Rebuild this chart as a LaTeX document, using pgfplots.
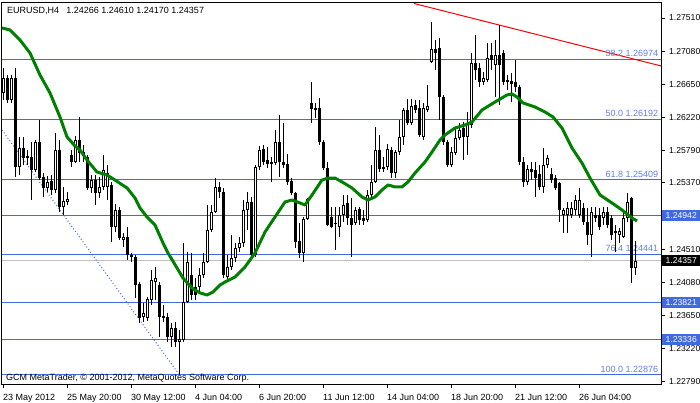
\documentclass[border=0pt]{standalone}
\usepackage{pgfplots}
\pgfplotsset{compat=1.18}
\usepackage{pgfplotstable}
\usepackage{fontspec}
\setmainfont{Liberation Sans}
\definecolor{rblue}{RGB}{65,105,225}
\definecolor{fibtxt}{RGB}{95,125,230}
\definecolor{mag}{RGB}{0,128,0}
\definecolor{silv}{RGB}{192,192,192}

\pgfplotstableread{
x o h l c
0 1.26537 1.26861 1.26446 1.26731
1 1.26731 1.26770 1.26407 1.26446
2 1.26446 1.26770 1.26407 1.26731
3 1.26731 1.26861 1.25446 1.25576
4 1.25576 1.25966 1.25472 1.25823
5 1.25823 1.25966 1.25602 1.25693
6 1.25693 1.25797 1.25602 1.25719
7 1.25706 1.25901 1.25148 1.25537
8 1.25537 1.25927 1.25511 1.25901
9 1.25901 1.26186 1.25407 1.25433
10 1.25446 1.25498 1.25187 1.25304
11 1.25304 1.25459 1.25252 1.25382
12 1.25394 1.25472 1.25213 1.25278
13 1.25278 1.26018 1.25239 1.25797
14 1.25797 1.25927 1.24992 1.25057
15 1.25057 1.25317 1.24953 1.25135
16 1.25122 1.25252 1.25083 1.25161
17 1.25732 1.25797 1.25576 1.25641
18 1.25641 1.25979 1.25628 1.25927
19 1.25927 1.26225 1.25641 1.25758
20 1.25771 1.25862 1.25641 1.25732
21 1.25706 1.25732 1.25278 1.25304
22 1.25304 1.25472 1.25239 1.25407
23 1.25407 1.25472 1.25083 1.25239
24 1.25239 1.25446 1.25174 1.25317
25 1.25317 1.25732 1.25278 1.25537
26 1.25317 1.25602 1.25148 1.25498
27 1.25343 1.25382 1.24603 1.24797
28 1.24797 1.25096 1.24732 1.25018
29 1.25018 1.25057 1.24629 1.24655
30 1.24629 1.24719 1.24538 1.24668
31 1.24668 1.24797 1.24369 1.24434
32 1.24434 1.24460 1.24343 1.24408
33 1.24408 1.24434 1.23876 1.24044
34 1.24057 1.24083 1.23551 1.23616
35 1.23629 1.23811 1.23564 1.23681
36 1.23616 1.23889 1.23577 1.23863
37 1.23850 1.24239 1.23785 1.24109
38 1.24083 1.24278 1.23850 1.24135
39 1.24044 1.24083 1.23369 1.23629
40 1.23642 1.23785 1.23564 1.23616
41 1.23629 1.23681 1.23305 1.23369
42 1.23369 1.23551 1.23240 1.23486
43 1.23486 1.23564 1.23240 1.23305
44 1.23305 1.23460 1.22876 1.23343
45 1.23331 1.24590 1.23305 1.23824
46 1.23824 1.24473 1.23811 1.24343
47 1.24174 1.24460 1.23850 1.23915
48 1.24019 1.24135 1.23850 1.23915
49 1.24019 1.24265 1.23941 1.24174
50 1.24174 1.24460 1.24135 1.24343
51 1.24343 1.25083 1.24330 1.24758
52 1.24758 1.25083 1.24732 1.24992
53 1.24992 1.25433 1.24979 1.25317
54 1.25317 1.25382 1.25174 1.25252
55 1.25252 1.25304 1.24135 1.24174
56 1.24148 1.24434 1.24122 1.24278
57 1.24278 1.24694 1.24239 1.24395
58 1.24395 1.24590 1.24343 1.24525
59 1.24525 1.24668 1.24473 1.24590
60 1.24590 1.25148 1.24538 1.25018
61 1.25018 1.25252 1.24758 1.25122
62 1.25122 1.25187 1.24395 1.24434
63 1.24434 1.25602 1.24408 1.25576
64 1.25576 1.25849 1.25537 1.25797
65 1.25810 1.25862 1.25602 1.25641
66 1.25667 1.25836 1.25563 1.25615
67 1.25615 1.25706 1.25382 1.25641
68 1.25628 1.26056 1.25602 1.25901
69 1.25901 1.26251 1.25446 1.25641
70 1.25641 1.26147 1.25563 1.25602
71 1.25615 1.25745 1.25343 1.25382
72 1.25394 1.25433 1.25213 1.25239
73 1.25239 1.25252 1.24525 1.24603
74 1.24616 1.24849 1.24395 1.24460
75 1.24460 1.24927 1.24343 1.24901
76 1.24901 1.25174 1.24888 1.25161
77 1.26407 1.26680 1.26147 1.26329
78 1.26342 1.26407 1.26212 1.26316
79 1.26342 1.26472 1.25862 1.25901
80 1.25901 1.25927 1.25537 1.25563
81 1.25563 1.25641 1.24810 1.24823
82 1.24927 1.25057 1.24784 1.24797
83 1.24849 1.25057 1.24499 1.24836
84 1.24797 1.25057 1.24668 1.24953
85 1.24953 1.25213 1.24862 1.25083
86 1.25109 1.25213 1.24823 1.24914
87 1.24914 1.25174 1.24408 1.24823
88 1.24849 1.25057 1.24823 1.25018
89 1.25031 1.25057 1.24823 1.24888
90 1.24914 1.25018 1.24823 1.24875
91 1.24888 1.25278 1.24862 1.25213
92 1.25213 1.25602 1.25187 1.25382
93 1.25382 1.26095 1.25369 1.25797
94 1.25797 1.25992 1.25511 1.25550
95 1.25576 1.25706 1.25511 1.25550
96 1.25576 1.25875 1.25537 1.25810
97 1.25797 1.25836 1.25433 1.25498
98 1.25498 1.25797 1.25433 1.25771
99 1.25771 1.26186 1.25732 1.25966
100 1.25966 1.26342 1.25862 1.26316
101 1.26316 1.26459 1.26121 1.26147
102 1.26147 1.26459 1.26121 1.26368
103 1.26381 1.26446 1.26277 1.26316
104 1.26342 1.26446 1.25966 1.25992
105 1.25966 1.26407 1.25927 1.26342
106 1.26316 1.26641 1.26290 1.26368
107 1.26939 1.27458 1.26926 1.27108
108 1.27108 1.27225 1.26835 1.27056
109 1.27121 1.27251 1.26186 1.26485
110 1.26485 1.26511 1.25862 1.25901
111 1.25901 1.25927 1.25576 1.25602
112 1.25602 1.25836 1.25576 1.25771
113 1.25758 1.26082 1.25732 1.25953
114 1.25953 1.26147 1.25927 1.26056
115 1.26082 1.26160 1.25667 1.25966
116 1.25966 1.26290 1.25732 1.26147
117 1.26121 1.27056 1.26082 1.26926
118 1.26926 1.27290 1.26706 1.26835
119 1.26861 1.26926 1.26615 1.26680
120 1.26680 1.26809 1.26641 1.26731
121 1.26706 1.27186 1.26680 1.26991
122 1.27030 1.27186 1.26835 1.26965
123 1.26900 1.27225 1.26485 1.27030
124 1.27030 1.27420 1.26381 1.26900
125 1.27056 1.27095 1.26641 1.26680
126 1.26680 1.26770 1.26576 1.26706
127 1.26693 1.26796 1.26420 1.26654
128 1.26680 1.26965 1.26550 1.26615
129 1.26615 1.26641 1.25602 1.25641
130 1.25641 1.25706 1.25317 1.25382
131 1.25382 1.25602 1.25343 1.25550
132 1.25550 1.25641 1.25407 1.25511
133 1.25537 1.25641 1.25187 1.25433
134 1.25485 1.25602 1.25278 1.25317
135 1.25317 1.25823 1.25239 1.25602
136 1.25602 1.25732 1.25563 1.25693
137 1.25485 1.25563 1.25369 1.25407
138 1.25433 1.25472 1.25278 1.25304
139 1.25369 1.25382 1.24862 1.25018
140 1.24953 1.25044 1.24719 1.25018
141 1.24953 1.25122 1.24719 1.25044
142 1.24953 1.25122 1.24914 1.25044
143 1.25018 1.25213 1.24953 1.25148
144 1.24953 1.25304 1.24914 1.25148
145 1.25044 1.25109 1.24823 1.24862
146 1.24862 1.25044 1.24564 1.24694
147 1.24694 1.25057 1.24408 1.24992
148 1.24953 1.25057 1.24862 1.24914
149 1.24953 1.25044 1.24758 1.24797
150 1.24914 1.25057 1.24823 1.24992
151 1.24992 1.25057 1.24784 1.24823
152 1.24914 1.24953 1.24629 1.24694
153 1.24745 1.24823 1.24473 1.24719
154 1.24694 1.24784 1.24590 1.24745
155 1.24668 1.24979 1.24655 1.24914
156 1.24914 1.25239 1.24862 1.25122
157 1.25174 1.25187 1.24070 1.24265
158 1.24266 1.24610 1.24170 1.24357
}\candles

\begin{document}
\begin{tikzpicture}[font=\fontsize{9}{10}\selectfont]
\useasboundingbox (0,0) rectangle (700pt,402pt);
\begin{axis}[
  at={(2pt,18pt)}, anchor=south west, scale only axis,
  width=659pt, height=382pt,
  xmin=-0.375, xmax=164.375, ymin=1.22759, ymax=1.27718,
  axis line style={black, line width=1pt},
  tick style={black, line width=1pt},
  tick align=outside, major tick length=3.5pt,
  xtick={0,16,...,144},
  xticklabels={23 May 2012, 25 May 20:00, 30 May 12:00, 4 Jun 04:00, 6 Jun 20:00, 11 Jun 12:00, 14 Jun 04:00, 18 Jun 20:00, 21 Jun 12:00, 26 Jun 04:00},
  ytick={1.2279,1.2322,1.2365,1.2408,1.2451,1.2537,1.2579,1.2622,1.2665,1.2708,1.2751},
  yticklabels={1.22790,1.23220,1.23650,1.24080,1.24510,1.25370,1.25790,1.26220,1.26650,1.27080,1.27510},
  scaled y ticks=false,
  xtick pos=lower, xticklabel pos=lower,
  ytick pos=upper, yticklabel pos=upper,
  xticklabel style={font=\fontsize{9}{10}\selectfont, anchor=base west, inner sep=0pt, xshift=-0.5pt, yshift=-13.3pt},
  yticklabel style={font=\fontsize{8.6}{10}\selectfont, anchor=west, inner sep=0pt, xshift=4.5pt},
]
% horizontal levels
\addplot[rblue, line width=1pt] coordinates {(-1,1.26974) (166,1.26974)};
\addplot[rblue, line width=1pt] coordinates {(-1,1.26192) (166,1.26192)};
\addplot[rblue, line width=1pt] coordinates {(-1,1.25409) (166,1.25409)};
\addplot[rblue, line width=1pt] coordinates {(-1,1.24942) (166,1.24942)};
\addplot[rblue, line width=1pt] coordinates {(-1,1.24441) (166,1.24441)};
\addplot[rblue, line width=1pt] coordinates {(-1,1.23821) (166,1.23821)};
\addplot[rblue, line width=1pt] coordinates {(-1,1.23336) (166,1.23336)};
\addplot[rblue, line width=1pt] coordinates {(-1,1.22876) (166,1.22876)};
\addplot[silv, line width=1pt] coordinates {(-1,1.24357) (166,1.24357)};
% fibo diagonal and trend line
\addplot[rblue, line width=1pt, dash pattern=on 1pt off 2.2pt] coordinates {(-0.375,1.26056) (44,1.22876)};
\addplot[red, line width=1pt] coordinates {(102.6,1.27699) (164.375,1.26888)};
% fibo labels
\node[anchor=base east, inner sep=0pt, text=fibtxt, yshift=2.6pt] at (axis cs:163.7,1.26974) {38.2 1.26974};
\node[anchor=base east, inner sep=0pt, text=fibtxt, yshift=2.6pt] at (axis cs:163.7,1.26192) {50.0 1.26192};
\node[anchor=base east, inner sep=0pt, text=fibtxt, yshift=2.6pt] at (axis cs:163.7,1.25409) {61.8 1.25409};
\node[anchor=base east, inner sep=0pt, text=fibtxt, yshift=2.6pt] at (axis cs:163.7,1.24441) {76.4 1.24441};
\node[anchor=base east, inner sep=0pt, text=fibtxt, yshift=2.6pt] at (axis cs:163.7,1.22876) {100.0 1.22876};
% wicks
\addplot[draw=none, mark=none, forget plot, error bars/.cd, y dir=minus, y explicit, error mark=none,
  error bar style={draw=black, line width=1pt}]
  table[x=x, y=h, y error minus expr=\thisrow{h}-\thisrow{l}] {\candles};
% bodies (outline / bear fill)
\addplot[draw=none, mark=none, forget plot, error bars/.cd, y dir=minus, y explicit, error mark=none,
  error bar style={draw=black, line width=3pt}]
  table[x=x, y expr={max(\thisrow{o},\thisrow{c})}, y error minus expr={max(abs(\thisrow{c}-\thisrow{o}),0.00013)}] {\candles};
% bull interiors
\addplot[draw=none, mark=none, forget plot, error bars/.cd, y dir=minus, y explicit, error mark=none,
  error bar style={draw=white, line width=1pt}]
  table[x=x, y expr={\thisrow{c}-0.00013}, y error minus expr={max(\thisrow{c}-\thisrow{o}-0.00026,0)}] {\candles};
% moving average
\addplot[mag, line width=3pt, line join=round] coordinates {
(-0.375,1.27381) (1.625,1.27355) (4.125,1.27225) (6.625,1.27056) (9.125,1.26770)
(11.625,1.26537) (14.125,1.26225) (15.875,1.25966) (17.875,1.25849) (19.125,1.25797)
(20.875,1.25667) (23.375,1.25511) (25.875,1.25472) (27.875,1.25407) (30.875,1.25304)
(32.875,1.25174) (34.125,1.25044) (35.875,1.24927) (37.875,1.24823) (39.875,1.24590)
(41.125,1.24460) (43.375,1.24265) (44.875,1.24135) (47.125,1.24005) (49.125,1.23941)
(50.875,1.23915) (52.375,1.23954) (54.125,1.24044) (55.375,1.24083) (57.875,1.24148)
(60.375,1.24278) (62.875,1.24460) (65.375,1.24732) (67.875,1.24927) (70.375,1.25122)
(72.125,1.25148) (74.125,1.25109) (75.375,1.25083) (77.125,1.25213) (79.625,1.25407)
(81.125,1.25433) (82.875,1.25433) (84.625,1.25382) (87.125,1.25304) (89.625,1.25187)
(91.125,1.25148) (92.875,1.25187) (94.625,1.25278) (96.125,1.25343) (97.875,1.25317)
(99.625,1.25317) (101.125,1.25382) (102.875,1.25498) (105.375,1.25641) (107.125,1.25771)
(109.125,1.25927) (110.375,1.25992) (112.875,1.26082) (115.375,1.26121) (117.125,1.26160)
(119.625,1.26316) (122.875,1.26420) (125.875,1.26511) (127.125,1.26524) (128.375,1.26485)
(129.875,1.26407) (132.875,1.26355) (135.375,1.26290) (137.375,1.26225) (139.625,1.26082)
(142.125,1.25823) (144.625,1.25628) (146.625,1.25433) (149.125,1.25213) (152.125,1.25109)
(154.625,1.25018) (157.125,1.24914) (158.375,1.24875)
};
\coordinate (B1) at (axis cs:164.375,1.24942);
\coordinate (B2) at (axis cs:164.375,1.23821);
\coordinate (B3) at (axis cs:164.375,1.23336);
\coordinate (B4) at (axis cs:164.375,1.24357);
\end{axis}
% price boxes on the right scale
\fill[rblue] ([xshift=0.6pt,yshift=-5.5pt]B1) rectangle ([xshift=40pt,yshift=5.5pt]B1);
\node[anchor=west, inner sep=0pt, text=white, font=\fontsize{8.6}{10}\selectfont] at ([xshift=4.5pt]B1) {1.24942};
\fill[rblue] ([xshift=0.6pt,yshift=-5.5pt]B2) rectangle ([xshift=40pt,yshift=5.5pt]B2);
\node[anchor=west, inner sep=0pt, text=white, font=\fontsize{8.6}{10}\selectfont] at ([xshift=4.5pt]B2) {1.23821};
\fill[rblue] ([xshift=0.6pt,yshift=-5.5pt]B3) rectangle ([xshift=40pt,yshift=5.5pt]B3);
\node[anchor=west, inner sep=0pt, text=white, font=\fontsize{8.6}{10}\selectfont] at ([xshift=4.5pt]B3) {1.23336};
\fill[black] ([xshift=0.6pt,yshift=-5.5pt]B4) rectangle ([xshift=40pt,yshift=5.5pt]B4);
\node[anchor=west, inner sep=0pt, text=white, font=\fontsize{8.6}{10}\selectfont] at ([xshift=4.5pt]B4) {1.24357};
% chart texts
\node[anchor=base west, inner sep=0pt] at (7pt,388pt) {EURUSD,H4\hspace{0.8em}1.24266 1.24610 1.24170 1.24357};
\node[anchor=base west, inner sep=0pt] at (6pt,21.3pt) {GCM MetaTrader, © 2001-2012, MetaQuotes Software Corp.};
\end{tikzpicture}
\end{document}
